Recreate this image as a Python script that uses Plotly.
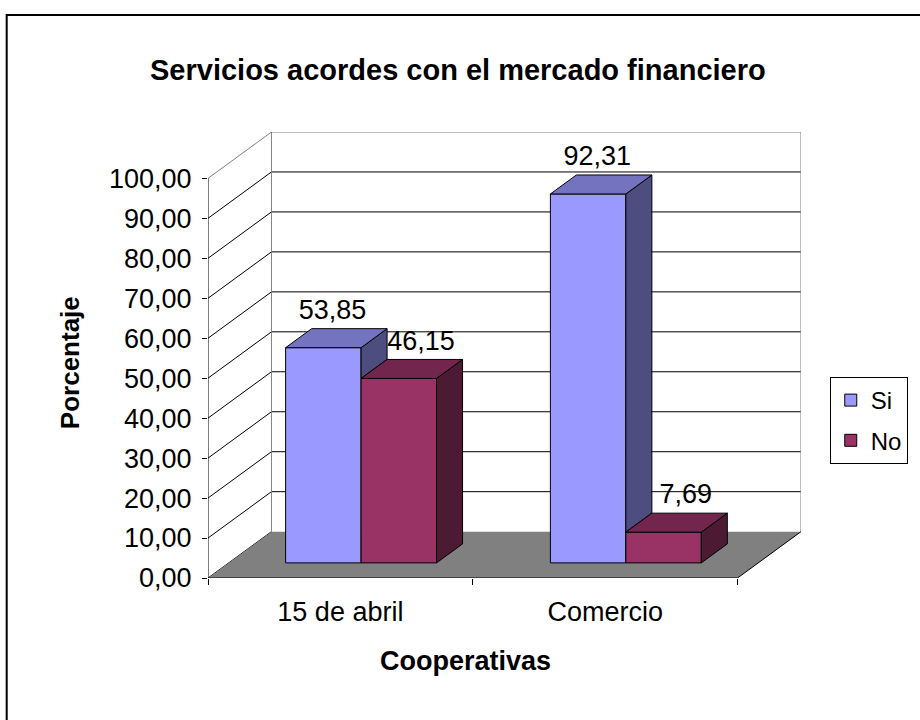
import plotly.graph_objects as go

# ---------------- data ----------------
categories = ["15 de abril", "Comercio"]
series_names = ["Si", "No"]
si_values = [53.85, 92.31]
no_values = [46.15, 7.69]
y_ticks = [0, 10, 20, 30, 40, 50, 60, 70, 80, 90, 100]
y_tick_labels = [f"{t:.2f}".replace(".", ",") for t in y_ticks]

# ---------------- style / geometry ----------------
W, H = 920, 720
ML, MR, MT, MB = 208, 114, 132, 142
DX = 0.2397      # depth offset (category units)
DY = 11.6        # depth offset (value units)
F0, F1 = 0.326, 0.736   # bar front / back depth fractions
BW = 0.285       # bar width
LBL = {"Si": 0.35, "No": 0.85}   # label position across the top face
FONT = "Liberation Sans, Arial, sans-serif"
front_col = {"Si": "#9999FF", "No": "#993366"}
top_col = {"Si": "#7373C0", "No": "#73264D"}
side_col = {"Si": "#4D4D80", "No": "#4D1A33"}
offsets = {"Si": -BW, "No": 0.0}
values = {"Si": si_values, "No": no_values}

xpos = list(range(len(categories)))
xmin, xmax = -0.5, len(categories) - 0.5

fig = go.Figure()

# front faces as bars
for s in series_names:
    fig.add_trace(go.Bar(
        name=s, x=[i + F0 * DX for i in xpos], y=values[s], base=F0 * DY,
        width=BW, offset=offsets[s],
        marker=dict(color=front_col[s], line=dict(color="black", width=1)),
        legendgroup=s, hoverinfo="skip"))

# value labels
for s in series_names:
    lx, ly, lt = [], [], []
    for i, v in zip(xpos, values[s]):
        c = i + offsets[s] + BW / 2
        lx.append(c + (F0 + LBL[s] * (F1 - F0)) * DX)
        ly.append(v + F1 * DY + 0.8)
        lt.append(f"{v:.2f}".replace(".", ","))
    fig.add_trace(go.Scatter(x=lx, y=ly, text=lt, mode="text", textposition="top center",
                             textfont=dict(family=FONT, size=27, color="black"),
                             showlegend=False, hoverinfo="skip"))

# top and side faces
for s in series_names:
    tx, ty, sx, sy = [], [], [], []
    for k, (i, v) in enumerate(zip(xpos, values[s])):
        lft = i + offsets[s]
        rgt = lft + BW
        tx += [lft + F0 * DX, rgt + F0 * DX, rgt + F1 * DX, lft + F1 * DX, lft + F0 * DX, None]
        ty += [v + F0 * DY, v + F0 * DY, v + F1 * DY, v + F1 * DY, v + F0 * DY, None]
        b = min(v, no_values[k]) if s == "Si" else 0.0
        sx += [rgt + F0 * DX, rgt + F1 * DX, rgt + F1 * DX, rgt + F0 * DX, rgt + F0 * DX, None]
        sy += [b + F0 * DY, b + F1 * DY, v + F1 * DY, v + F0 * DY, b + F0 * DY, None]
    fig.add_trace(go.Scatter(x=sx, y=sy, mode="lines", fill="toself", fillcolor=side_col[s],
                             line=dict(color="black", width=1), showlegend=False, hoverinfo="skip"))
    fig.add_trace(go.Scatter(x=tx, y=ty, mode="lines", fill="toself", fillcolor=top_col[s],
                             line=dict(color="black", width=1), showlegend=False, hoverinfo="skip"))

shapes = []
# back wall gridlines & left wall diagonals
for t in y_ticks:
    col = "#808080" if t == y_ticks[-1] else "black"
    if t != 0:
        shapes.append(dict(type="line", xref="x", yref="y", layer="below",
                           x0=xmin + DX, y0=t + DY, x1=xmax + DX, y1=t + DY,
                           line=dict(color=col, width=1)))
    shapes.append(dict(type="line", xref="x", yref="y", layer="below",
                       x0=xmin, y0=t, x1=xmin + DX, y1=t + DY,
                       line=dict(color=col, width=1)))
# back wall verticals
for xx in (xmin + DX, xmax + DX):
    shapes.append(dict(type="line", xref="x", yref="y", layer="below",
                       x0=xx, y0=DY, x1=xx, y1=y_ticks[-1] + DY,
                       line=dict(color="#808080", width=1)))
# floor
shapes.append(dict(type="path", xref="x", yref="y", layer="below",
                   path=f"M {xmin},0 L {xmax},0 L {xmax + DX},{DY} L {xmin + DX},{DY} Z",
                   fillcolor="#808080", line=dict(width=0)))
# floor right edge, front axis lines
shapes.append(dict(type="line", xref="x", yref="y", x0=xmax, y0=0, x1=xmax + DX, y1=DY,
                   line=dict(color="black", width=1)))
shapes.append(dict(type="line", xref="x", yref="y", x0=xmin, y0=0, x1=xmax, y1=0,
                   line=dict(color="black", width=1)))
shapes.append(dict(type="line", xref="x", yref="y", x0=xmin, y0=0, x1=xmin, y1=y_ticks[-1],
                   line=dict(color="black", width=1)))


def px_x(p):
    return (p - ML) / (W - ML - MR)


def px_y(p):
    return (H - MB - p) / (H - MT - MB)


# outer chart border
shapes.append(dict(type="rect", xref="paper", yref="paper",
                   x0=px_x(5), y0=px_y(730), x1=px_x(930), y1=px_y(15),
                   line=dict(color="black", width=2)))

annotations = [
    dict(text="<b>Servicios acordes con el mercado financiero</b>", xref="paper", yref="paper",
         x=px_x(460), y=px_y(70), showarrow=False, xanchor="center", yanchor="middle",
         font=dict(family=FONT, size=29, color="black")),
    dict(text="<b>Porcentaje</b>", xref="paper", yref="paper", textangle=-90,
         x=px_x(69), y=px_y(363), showarrow=False, xanchor="center", yanchor="middle",
         font=dict(family=FONT, size=26, color="black")),
    dict(text="<b>Cooperativas</b>", xref="paper", yref="paper",
         x=px_x(468), y=px_y(661), showarrow=False, xanchor="center", yanchor="middle",
         font=dict(family=FONT, size=27, color="black")),
]

fig.update_layout(
    width=W, height=H, autosize=False,
    margin=dict(l=ML, r=MR, t=MT, b=MB, pad=0),
    paper_bgcolor="white", plot_bgcolor="white",
    barmode="overlay",
    shapes=shapes, annotations=annotations,
    showlegend=True,
    legend=dict(x=px_x(835), y=px_y(377), xanchor="left", yanchor="top",
                bordercolor="black", borderwidth=1, bgcolor="white",
                font=dict(family=FONT, size=24, color="black"),
                traceorder="grouped", tracegroupgap=6, itemwidth=30),
    xaxis=dict(range=[xmin, xmax + DX], tickvals=xpos, ticktext=categories,
               ticks="", showgrid=False, zeroline=False, showline=False,
               tickfont=dict(family=FONT, size=27, color="black"), ticklabelstandoff=15,
               minor=dict(tickvals=[xmin + k for k in range(len(categories) + 1)],
                          ticks="outside", ticklen=6, tickcolor="black", showgrid=False)),
    yaxis=dict(range=[0, y_ticks[-1] + DY], tickvals=y_ticks, ticktext=y_tick_labels,
               ticks="outside", ticklen=5, tickcolor="black", showgrid=False,
               zeroline=False, showline=False,
               tickfont=dict(family=FONT, size=27, color="black"), ticklabelstandoff=5),
)

fig.write_html("out.html", config={"displayModeBar": False},
               post_script="document.body.style.margin='0px';")
